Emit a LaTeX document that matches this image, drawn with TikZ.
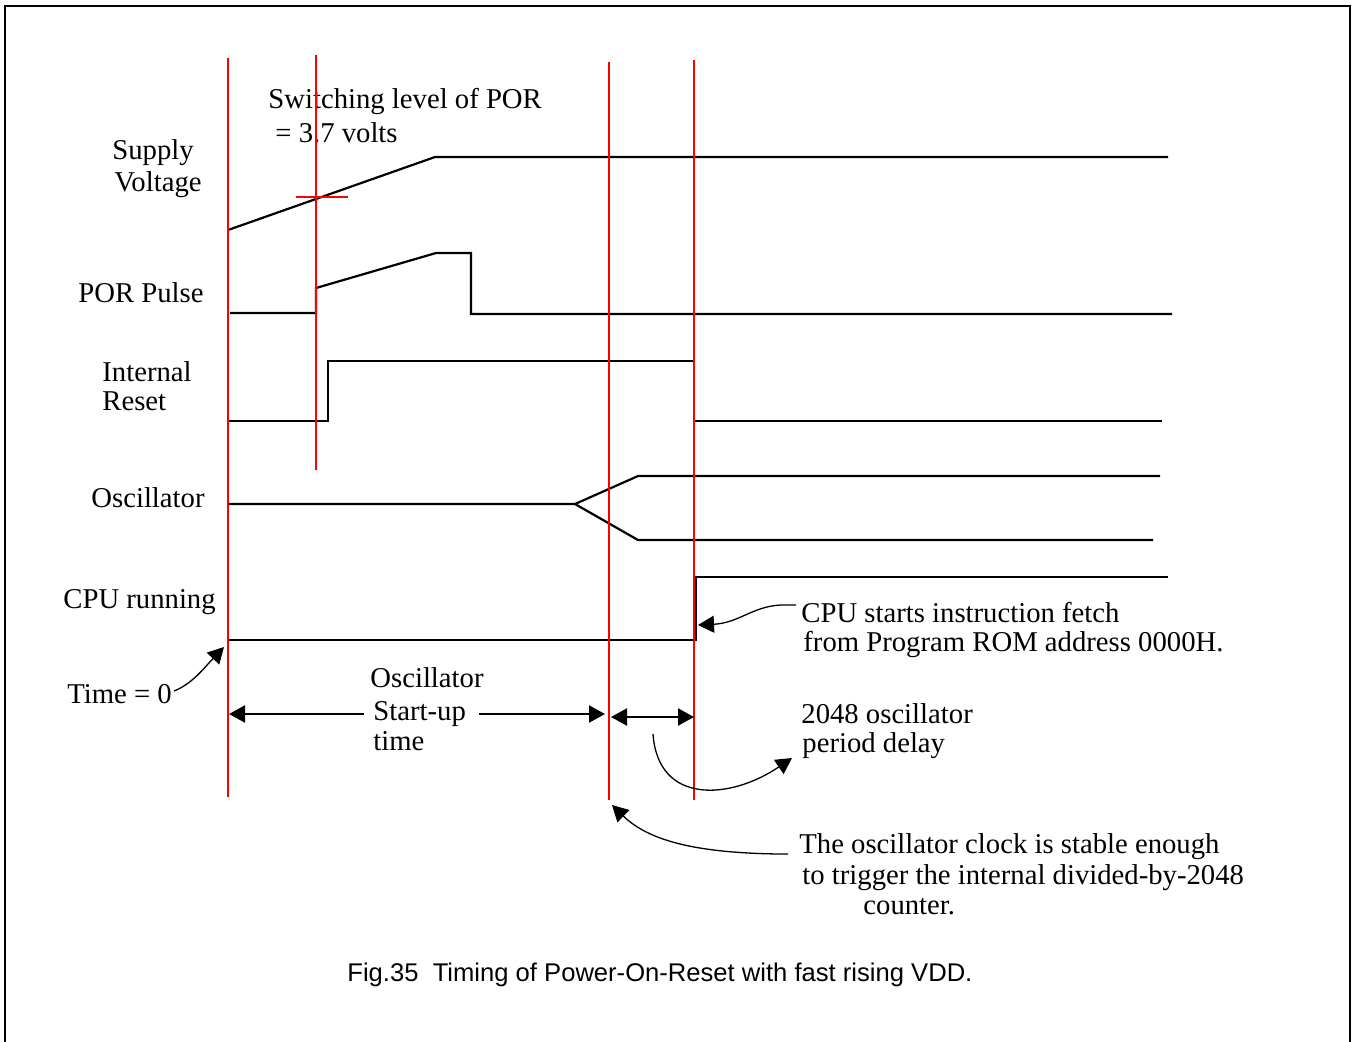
\documentclass[tikz,border=0pt]{standalone}
\usepackage{fontspec}
\setmainfont{Liberation Serif}
\newfontfamily\capfont{Liberation Sans}
\usetikzlibrary{arrows.meta}
\tikzset{
  sig/.style={black, line width=1.1pt, line join=miter},
  redline/.style={red, line width=0.95pt},
  frame/.style={black, line width=1.1pt},
  lbl/.style={anchor=base west, inner sep=0pt, font=\fontsize{14.35}{17}\selectfont},
  tip/.tip={Triangle[length=8pt,width=8.5pt]},
  ann/.style={black, line width=0.65pt, -tip},
  dimleft/.style={black, line width=1.1pt, tip-},
  dimright/.style={black, line width=1.1pt, -tip},
  dimboth/.style={black, line width=1.1pt, tip-tip},
}
\begin{document}
\begin{tikzpicture}[x=0.5pt,y=-0.5pt]
\useasboundingbox (0,0) rectangle (1352,1041);
% frame
\draw[frame] (5,1045) -- (5,6) -- (1350,6) -- (1350,1045);

% labels
\node[lbl] (sw1) at (268,108) {Switching level of POR};
\node[lbl] (sw2) at (275,142) {= 3.7 volts};
\node[lbl] (sup1) at (112,159) {Supply};
\node[lbl] (sup2) at (114,191) {Voltage};
\node[lbl] (por) at (78,302) {POR Pulse};
\node[lbl] (ir1) at (102,381) {Internal};
\node[lbl] (ir2) at (102,410) {Reset};
\node[lbl] (osc) at (91,507) {Oscillator};
\node[lbl] (cpu) at (63,608) {CPU running};
\node[lbl] (t0) at (67,703) {Time = 0};
\node[lbl] (ost1) at (370,687) {Oscillator};
\node[lbl] (ost2) at (373,720) {Start-up};
\node[lbl] (ost3) at (373,750) {time};
\node[lbl] (cs1) at (801,622) {CPU starts instruction fetch};
\node[lbl] (cs2) at (803,651) {from Program ROM address 0000H.};
\node[lbl] (pd1) at (801,723) {2048 oscillator};
\node[lbl] (pd2) at (802,752) {period delay};
\node[lbl] (st1) at (799,853) {The oscillator clock is stable enough};
\node[lbl] (st2) at (802,884) {to trigger the internal divided-by-2048};
\node[lbl] (st3) at (863,914) {counter.};
\node[anchor=base west, inner sep=0pt, font=\capfont\fontsize{12.8}{15}\selectfont] (cap) at (347,981) {Fig.35\ \ Timing of Power-On-Reset with fast rising VDD.};

% waveforms
\draw[sig] (228,230) -- (435,157) -- (1168,157);
\draw[sig] (230,313) -- (316,313) -- (316,288) -- (436,253) -- (471,253) -- (471,314) -- (1172,314);
\draw[sig] (228,421) -- (328,421) -- (328,361) -- (694,361) -- (694,421) -- (1162,421);
\draw[sig] (228,504) -- (575,504) -- (638,476) -- (1160,476);
\draw[sig] (575,504) -- (638,540) -- (1153,540);
\draw[sig] (228,640) -- (696,640) -- (696,577) -- (1168,577);

% red markers
\draw[redline] (228,58) -- (228,797);
\draw[redline] (316,55) -- (316,470);
\draw[redline] (609,62) -- (609,800);
\draw[redline] (694,60) -- (694,800);
\draw[redline] (296,197) -- (348,197);

% dimension arrows
\coordinate (d1a) at (229,714);
\coordinate (d1b) at (364,714);
\coordinate (d1c) at (479,714);
\coordinate (d1d) at (605,714);
\coordinate (d2a) at (611,717);
\coordinate (d2b) at (694,717);
\draw[dimleft] (d1a) -- (d1b);
\draw[dimright] (d1c) -- (d1d);
\draw[dimboth] (d2a) -- (d2b);

% annotation arrows
\coordinate (t0s) at (174,691);
\coordinate (t0e) at (224,647);
\draw[ann] (t0s) .. controls (192,684) and (204,668) .. (t0e);
\coordinate (css) at (796,605);
\coordinate (cse) at (698,625);
\draw[ann] (css) -- (786,605) .. controls (755,604) and (740,623) .. (cse);
\coordinate (pds) at (653,734);
\coordinate (pde) at (792,758);
\draw[ann] (pds) .. controls (658,805) and (730,800) .. (pde);
\coordinate (sts) at (788,854);
\coordinate (ste) at (612,805);
\draw[ann] (sts) -- (780,854) .. controls (700,853) and (650,842) .. (ste);
\end{tikzpicture}
\end{document}
